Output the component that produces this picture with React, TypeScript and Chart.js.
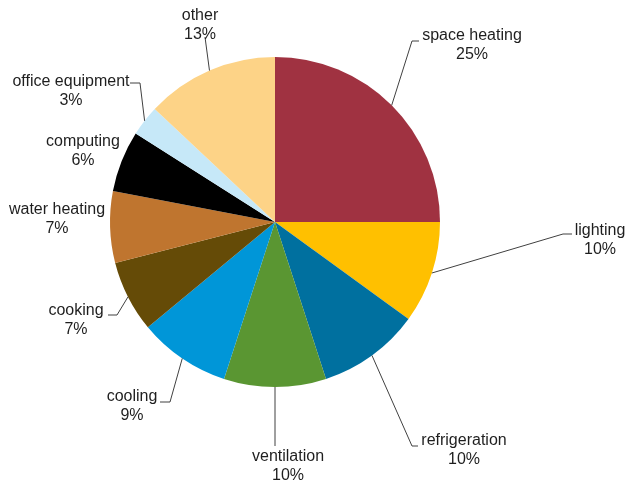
import React, { useEffect, useRef } from "react";
import { Chart, registerables } from "chart.js";

Chart.register(...registerables);

const categories = [
  "space heating",
  "lighting",
  "refrigeration",
  "ventilation",
  "cooling",
  "cooking",
  "water heating",
  "computing",
  "office equipment",
  "other",
];
const shares = [25, 10, 10, 10, 9, 7, 7, 6, 3, 13];
const colors = [
  "#A03241",
  "#FFC000",
  "#00709F",
  "#5A9632",
  "#0096D8",
  "#654B07",
  "#BF752F",
  "#000000",
  "#C6E8F8",
  "#FDD387",
];

// label placement relative to the pie centre (text centre of first line, leader elbow and end)
type Place = { tx: number; ty: number; elbow?: [number, number]; end?: [number, number] };
const placements: Place[] = [
  { tx: 197, ty: -186, elbow: [137, -181], end: [144, -181] },
  { tx: 325, ty: 9, elbow: [288, 12], end: [297, 12] },
  { tx: 189, ty: 219, elbow: [137, 224], end: [143, 224] },
  { tx: 13, ty: 235, elbow: [0, 224], end: [0, 224] },
  { tx: -143, ty: 175, elbow: [-105, 180], end: [-115, 180] },
  { tx: -199, ty: 89, elbow: [-158, 93], end: [-167, 93] },
  { tx: -218, ty: -12 },
  { tx: -192, ty: -80 },
  { tx: -204, ty: -140, elbow: [-135, -139], end: [-145, -139] },
  { tx: -75, ty: -206, elbow: [-70, -185], end: [-70, -185] },
];

const labelPlugin = {
  id: "pieLabels",
  afterDatasetsDraw(chart: any) {
    const ctx = chart.ctx as CanvasRenderingContext2D;
    const meta = chart.getDatasetMeta(0);
    const data = chart.data.datasets[0].data as number[];
    const total = data.reduce((a, b) => a + b, 0);
    ctx.save();
    meta.data.forEach((arc: any, i: number) => {
      const { x, y, outerRadius, startAngle, endAngle } = arc.getProps(
        ["x", "y", "outerRadius", "startAngle", "endAngle"],
        true
      );
      const mid = (startAngle + endAngle) / 2;
      const ex = x + outerRadius * Math.cos(mid);
      const ey = y + outerRadius * Math.sin(mid);
      const p = placements[i];
      if (p.elbow && p.end) {
        ctx.strokeStyle = "#404040";
        ctx.lineWidth = 1;
        ctx.beginPath();
        ctx.moveTo(ex, ey);
        ctx.lineTo(x + p.elbow[0], y + p.elbow[1]);
        ctx.lineTo(x + p.end[0], y + p.end[1]);
        ctx.stroke();
      }
      ctx.fillStyle = "#1e1e1e";
      ctx.font = '16px "Liberation Sans", Arial, sans-serif';
      ctx.textAlign = "center";
      ctx.textBaseline = "middle";
      const pct = Math.round((data[i] / total) * 100) + "%";
      ctx.fillText(chart.data.labels[i], x + p.tx, y + p.ty);
      ctx.fillText(pct, x + p.tx, y + p.ty + 19);
    });
    ctx.restore();
  },
};

export default function App() {
  const ref = useRef<HTMLCanvasElement | null>(null);
  useEffect(() => {
    if (!ref.current) return;
    const chart = new Chart(ref.current, {
      type: "pie",
      data: {
        labels: categories,
        datasets: [
          {
            data: shares,
            backgroundColor: colors,
            borderWidth: 0,
          },
        ],
      },
      options: {
        animation: false,
        responsive: true,
        maintainAspectRatio: false,
        layout: { padding: { left: 110, right: 186, top: 57, bottom: 94 } },
        plugins: {
          legend: { display: false },
          tooltip: { enabled: false },
        },
      },
      plugins: [labelPlugin],
    });
    return () => chart.destroy();
  }, []);
  return (
    <div
      style={{
        position: "fixed",
        left: 0,
        top: 0,
        width: 626,
        height: 481,
        background: "#ffffff",
      }}
    >
      <canvas ref={ref} />
    </div>
  );
}
